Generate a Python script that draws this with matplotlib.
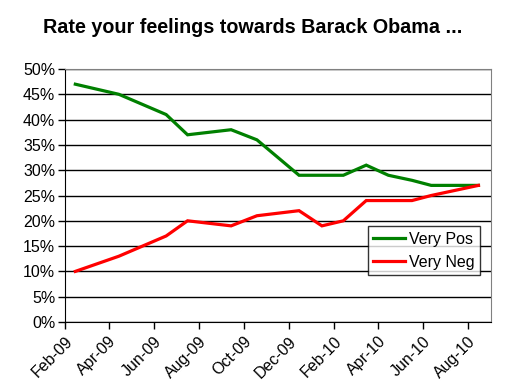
import datetime as dt

import matplotlib
matplotlib.use("Agg")
import matplotlib.dates as mdates
import matplotlib.pyplot as plt
from matplotlib.ticker import FuncFormatter, MultipleLocator

plt.rcParams['font.family'] = ['Liberation Sans', 'DejaVu Sans']

# survey dates and values (percent)
survey_dates = ["2009-02-15", "2009-04-15", "2009-06-18", "2009-07-17", "2009-09-14",
                "2009-10-19", "2009-12-15", "2010-01-15", "2010-02-13", "2010-03-16",
                "2010-04-15", "2010-05-17", "2010-06-12", "2010-08-15"]
very_pos = [47, 45, 41, 37, 38, 36, 29, 29, 29, 31, 29, 28, 27, 27]
very_neg = [10, 13, 17, 20, 19, 21, 22, 19, 20, 24, 24, 24, 25, 27]

title = "Rate your feelings towards Barack Obama ..."

dates = [dt.datetime.strptime(d, "%Y-%m-%d") for d in survey_dates]

fig = plt.figure(figsize=(5.17, 3.91), dpi=100)
ax = fig.add_axes([0.1257, 0.1765, 0.824, 0.647])

ax.plot(dates, very_pos, color='#008000', lw=2.3, label='Very Pos', solid_joinstyle='miter')
ax.plot(dates, very_neg, color='#ff0000', lw=2.3, label='Very Neg', solid_joinstyle='miter')

ax.set_ylim(0, 50)
ax.yaxis.set_major_locator(MultipleLocator(5))
ax.yaxis.set_major_formatter(FuncFormatter(lambda v, p: "%d%%" % v))
ax.grid(axis='y', color='black', lw=1)
ax.set_axisbelow(True)

ax.set_xlim(dt.datetime(2009, 2, 1), dt.datetime(2010, 9, 1))
ax.xaxis.set_major_locator(mdates.MonthLocator(bymonth=[2, 4, 6, 8, 10, 12]))
ax.xaxis.set_major_formatter(mdates.DateFormatter("%b-%y"))

ax.tick_params(axis='both', direction='out', length=5, width=1, color='black', labelsize=11.5)
ax.tick_params(axis='y', pad=2)
plt.setp(ax.get_xticklabels(), rotation=45, ha='right', rotation_mode='anchor')

for side in ['top', 'right']:
    ax.spines[side].set_color('#808080')
ax.spines['left'].set_color('black')
ax.spines['bottom'].set_color('black')

leg = ax.legend(loc='lower right', bbox_to_anchor=(0.975, 0.185), fontsize=11.5, frameon=True,
                fancybox=False, borderpad=0.35, handlelength=2.0, handletextpad=0.25,
                labelspacing=0.5, borderaxespad=0)
leg.get_frame().set_edgecolor('black')
leg.get_frame().set_linewidth(1)

fig.text(0.488, 0.929, title, ha='center', va='center', fontsize=14.2, fontweight='bold')

fig.savefig("out.png", dpi=100)
